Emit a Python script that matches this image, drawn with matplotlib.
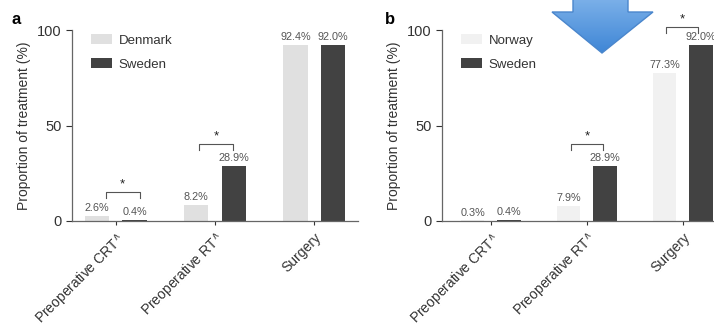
import numpy as np
import matplotlib
matplotlib.use("Agg")
import matplotlib.pyplot as plt
from matplotlib.patches import Polygon

plt.rcParams["font.family"] = ["Liberation Sans", "DejaVu Sans"]

categories = ["Preoperative CRT$^{\\wedge}$", "Preoperative RT$^{\\wedge}$", "Surgery"]

denmark = [2.6, 8.2, 92.4]
sweden = [0.4, 28.9, 92.0]
norway = [0.3, 7.9, 77.3]

# significance brackets: (left x, right x, bracket y) per panel
brackets_a = [(-0.10, 0.24, 15.2), (0.84, 1.18, 40.3)]
brackets_b = [(0.83, 1.17, 40.3), (1.82, 2.16, 101.6)]

C_DENMARK = "#e0e0e0"
C_NORWAY = "#f1f1f1"
C_SWEDEN = "#424242"
TXT = "#555555"
W, H = 714, 328


def px_axes(fig, left, right, top, bottom):
    return fig.add_axes([left / W, 1 - bottom / H, (right - left) / W, (bottom - top) / H])


def draw_panel(ax, first, first_name, first_color, brackets, xlim):
    x = np.arange(len(categories))
    off, bw = 0.19, 0.245
    b1 = ax.bar(x - off, first, bw, color=first_color)
    b2 = ax.bar(x + off, sweden, bw, color=C_SWEDEN)
    for rect, v in zip(list(b1) + list(b2), list(first) + list(sweden)):
        ax.text(rect.get_x() + rect.get_width() / 2, v + 1.5, f"{v:.1f}%",
                ha="center", va="bottom", fontsize=7.8, color=TXT)
    for xl, xr, yb in brackets:
        ax.plot([xl, xl, xr, xr], [yb - 3.2, yb, yb, yb - 3.2], color="#555555", lw=0.8,
                clip_on=False)
        ax.text((xl + xr) / 2, yb + 1.0, "*", ha="center", va="bottom", fontsize=9.5,
                color="#222222")
    ax.set_xlim(*xlim)
    ax.set_ylim(0, 100)
    ax.set_yticks([0, 50, 100])
    ax.set_xticks(x)
    ax.set_xticklabels(categories, rotation=45, ha="right", rotation_mode="anchor",
                       fontsize=10, color="#333333")
    ax.tick_params(axis="y", labelsize=10.5, colors="#333333", length=4, width=0.8)
    ax.tick_params(axis="x", length=3, width=0.8, color="#333333")
    for s in ["top", "right"]:
        ax.spines[s].set_visible(False)
    for s in ["left", "bottom"]:
        ax.spines[s].set_color("#666666")
        ax.spines[s].set_linewidth(0.9)
    ax.set_ylabel("Proportion of treatment (%)", fontsize=10, color="#333333", labelpad=4)
    ax.legend([b1, b2], [first_name, "Sweden"], loc="upper left", bbox_to_anchor=(0.025, 1.04),
              frameon=False, fontsize=9.5, handlelength=1.6, handleheight=0.8,
              handletextpad=0.5, labelspacing=0.85, labelcolor="#333333")


fig = plt.figure(figsize=(W / 100, H / 100), dpi=100)

ax_a = px_axes(fig, 72, 358, 30, 221)
draw_panel(ax_a, denmark, "Denmark", C_DENMARK, brackets_a, (-0.44, 2.44))

ax_b = px_axes(fig, 442, 725, 30, 221)
draw_panel(ax_b, norway, "Norway", C_NORWAY, brackets_b, (-0.51, 2.44))

fig.text(12 / W, 1 - 20 / H, "a", fontsize=12, fontweight="bold", va="center")
fig.text(385 / W, 1 - 20 / H, "b", fontsize=12, fontweight="bold", va="center")

# blue down arrow overlay
arrow_px = [(573, -5), (628, -5), (628, 12), (653, 12), (602, 53), (552, 12), (573, 12)]
overlay = fig.add_axes([0, 0, 1, 1], zorder=10)
overlay.set_xlim(0, W)
overlay.set_ylim(H, 0)
overlay.axis("off")
poly = Polygon(arrow_px, closed=True, facecolor="none", edgecolor="#4a86cc", lw=1.0)
overlay.add_patch(poly)
grad = np.linspace(0, 1, 100).reshape(-1, 1)
cmap = matplotlib.colors.LinearSegmentedColormap.from_list("arr", ["#7fb3ea", "#3f86d6"])
im = overlay.imshow(grad, extent=(552, 653, 53, -5), cmap=cmap, aspect="auto")
im.set_clip_path(poly)

fig.savefig("out.png", dpi=100)
